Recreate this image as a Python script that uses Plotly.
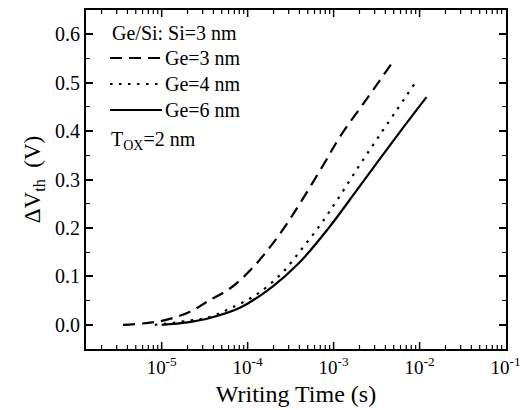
import math
import plotly.graph_objects as go

# log10 of writing time (s) and threshold shift (V)
ge3_logt = [-5.45, -5.0, -4.67, -4.47, -4.19, -3.94, -3.72, -3.55, -3.4, -3.12, -2.92, -2.6, -2.3]
ge3_dv = [0.0, 0.008, 0.027, 0.048, 0.077, 0.118, 0.165, 0.207, 0.248, 0.33, 0.39, 0.47, 0.546]

ge4_logt = [-5.08, -4.7, -4.44, -4.19, -3.9, -3.6, -3.36, -3.14, -2.95, -2.66, -2.47, -2.05]
ge4_dv = [0.0, 0.008, 0.016, 0.035, 0.062, 0.107, 0.159, 0.21, 0.26, 0.34, 0.39, 0.50]

ge6_logt = [-5.0, -4.7, -4.44, -4.09, -3.71, -3.4, -3.07, -2.73, -2.49, -2.2, -1.92]
ge6_dv = [0.0, 0.005, 0.014, 0.035, 0.079, 0.128, 0.197, 0.278, 0.336, 0.405, 0.47]

names = ["Ge=3 nm", "Ge=4 nm", "Ge=6 nm"]
dashes = ["12px,7px", "2.5px,6.5px", "solid"]
legend_title = "Ge/Si: Si=3 nm"
note_text = "T<sub>OX</sub>=2 nm"

x_label_vals = [1e-5, 1e-4, 1e-3, 1e-2, 1e-1]
x_label_text = ["10<sup>-5</sup>", "10<sup>-4</sup>", "10<sup>-3</sup>", "10<sup>-2</sup>", "10<sup>-1</sup>"]
major_x = [1e-5, 1e-4, 1e-3, 1e-2]
minor_x = [m * 10.0 ** e for e in range(-6, -1) for m in range(2, 10)]

FONT = "Liberation Serif"
LW = 2.2
XRANGE = [-5.88, -0.995]
PLOT_H = 339.0

fig = go.Figure()
for lt, dv, nm, ds in zip([ge3_logt, ge4_logt, ge6_logt], [ge3_dv, ge4_dv, ge6_dv], names, dashes):
    fig.add_trace(go.Scatter(
        x=[10 ** v for v in lt], y=dv, mode="lines", name=nm,
        line=dict(color="black", width=LW, dash=ds, shape="spline", smoothing=1.0),
        showlegend=False,
    ))

# hand-placed legend (paper coordinates: plot area 86..506 x, 10..349 y)
def px_x(p):
    return (p - 86) / 420.0

def px_y(p):
    return 1 - (p - 10) / 339.0

annotations = [dict(xref="paper", yref="paper", x=px_x(110), y=px_y(33), xanchor="left", yanchor="middle",
                    text=legend_title, showarrow=False, font=dict(family=FONT, size=20))]
shapes = []
row_y = [58, 84, 110]
for nm, ds, ry in zip(names, dashes, row_y):
    shapes.append(dict(type="line", xref="paper", yref="paper", x0=px_x(110), x1=px_x(162),
                       y0=px_y(ry), y1=px_y(ry), line=dict(color="black", width=LW, dash=ds)))
    annotations.append(dict(xref="paper", yref="paper", x=px_x(163), y=px_y(ry), xanchor="left", yanchor="middle",
                            text=nm, showarrow=False, font=dict(family=FONT, size=20)))
annotations.append(dict(xref="paper", yref="paper", x=px_x(109), y=px_y(140), xanchor="left", yanchor="middle",
                        text=note_text, showarrow=False, font=dict(family=FONT, size=20)))

# x-axis tick marks (inside, bottom and top), placed by the axis range
def x_dom(v):
    return (math.log10(v) - XRANGE[0]) / (XRANGE[1] - XRANGE[0])

for vals, tl, tw in [(major_x, 7, 1.5), (minor_x, 4, 1.2)]:
    for v in vals:
        if not (XRANGE[0] < math.log10(v) < XRANGE[1]):
            continue
        d = x_dom(v)
        for y0, y1 in [(0, tl / PLOT_H), (1, 1 - tl / PLOT_H)]:
            shapes.append(dict(type="line", xref="x domain", yref="y domain", x0=d, x1=d, y0=y0, y1=y1,
                               line=dict(color="black", width=tw), layer="above"))

fig.update_layout(
    width=525, height=410,
    margin=dict(l=86, r=19, t=10, b=61),
    paper_bgcolor="white", plot_bgcolor="white",
    font=dict(family=FONT, color="black", size=19),
    showlegend=False,
    annotations=annotations,
    shapes=shapes,
    xaxis=dict(
        type="log", range=XRANGE, tickmode="array", tickvals=x_label_vals, ticktext=x_label_text,
        showline=True, linecolor="black", linewidth=2, mirror=True,
        ticks="", showgrid=False, zeroline=False, automargin=False, ticklabeloverflow="allow",
        tickfont=dict(family=FONT, size=19),
        title=dict(text="Writing Time (s)", font=dict(family=FONT, size=24), standoff=8),
    ),
    yaxis=dict(
        range=[-0.05, 0.65], dtick=0.1, tick0=0, tickformat=".1f",
        showline=True, linecolor="black", linewidth=2, mirror="ticks",
        ticks="inside", ticklen=7, tickwidth=1.5, tickcolor="black",
        minor=dict(dtick=0.05, ticks="inside", ticklen=4, tickwidth=1.2, tickcolor="black", showgrid=False),
        showgrid=False, zeroline=False, automargin=False,
        tickfont=dict(family=FONT, size=20),
        title=dict(text="ΔV<sub>th</sub>  (V)", font=dict(family=FONT, size=23), standoff=8),
    ),
)

fig.write_html("out.html")
